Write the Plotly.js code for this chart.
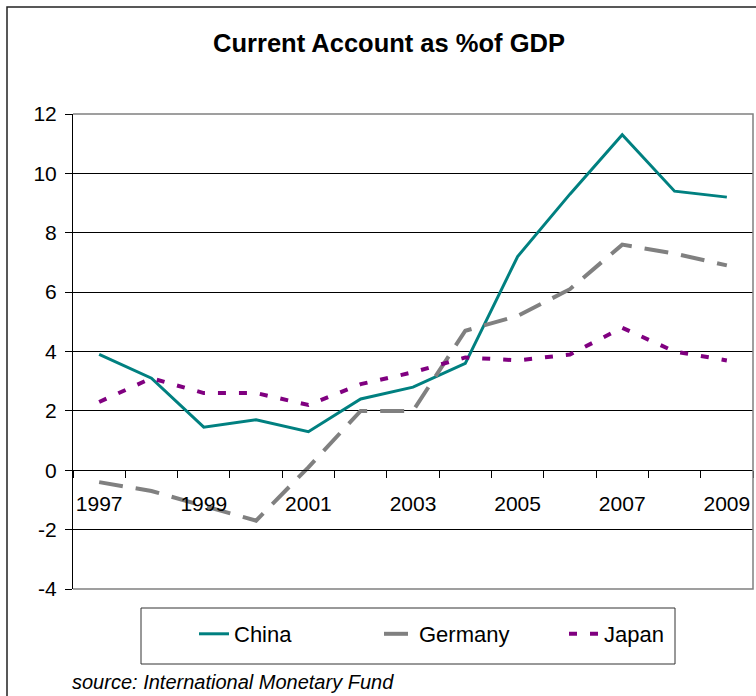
<!DOCTYPE html>
<html><head><meta charset="utf-8">
<script src="https://cdn.plot.ly/plotly-3.0.1.min.js"></script>
<style>html,body{margin:0;padding:0;background:#fff}</style>
</head><body><div id="chart" style="width:756px;height:696px"></div>
<script>
const years = [1997,1998,1999,2000,2001,2002,2003,2004,2005,2006,2007,2008,2009];
const china = [3.9,3.1,1.45,1.7,1.3,2.4,2.8,3.6,7.2,9.3,11.3,9.4,9.2];
const germany = [-0.4,-0.7,-1.2,-1.7,0.1,2.0,2.0,4.7,5.2,6.1,7.6,7.3,6.9];
const japan = [2.3,3.1,2.6,2.6,2.2,2.9,3.3,3.8,3.7,3.9,4.8,4.0,3.7];
const seriesNames = ["China","Germany","Japan"];
const xLabelYears = [1997,1999,2001,2003,2005,2007,2009];
const yTickVals = [-4,-2,0,2,4,6,8,10,12];
const yTickText = ["-4","-2","0","2","4","6","8","10","12"];

const FONT = "Liberation Sans, Arial, sans-serif";

const traces = [
  {x: years, y: china, name: seriesNames[0], mode: "lines", line: {color: "#008080", width: 3}},
  {x: years, y: germany, name: seriesNames[1], mode: "lines", line: {color: "#808080", width: 4, dash: "24px,13px"}},
  {x: years, y: japan, name: seriesNames[2], mode: "lines", line: {color: "#800080", width: 4, dash: "8px,13px"}}
];

const layout = {
  width: 756, height: 696,
  margin: {l: 73, r: 3, t: 114, b: 107, autoexpand: false},
  paper_bgcolor: "#fff", plot_bgcolor: "#fff",
  font: {family: FONT, size: 21, color: "#000"},
  title: {text: "Current Account as %of GDP", font: {family: FONT, size: 25.5, color: "#000", weight: "bold"},
          x: 389/756, xanchor: "center", y: 1 - 43/696, yanchor: "middle", xref: "container", yref: "container"},
  xaxis: {
    range: [1996.5, 2009.5], anchor: "free", position: 0.25,
    tickmode: "array", tickvals: xLabelYears, ticktext: xLabelYears.map(String),
    ticks: "", showgrid: false, zeroline: false,
    showline: true, linecolor: "#000", linewidth: 1,
    ticklabelstandoff: 15,
    tickfont: {family: FONT, size: 21, color: "#000"},
    minor: {tickmode: "linear", tick0: 1996.5, dtick: 1, ticks: "outside", ticklen: 7, tickcolor: "#000", tickwidth: 1, showgrid: false}
  },
  yaxis: {
    range: [-4, 12], tickmode: "array", tickvals: yTickVals, ticktext: yTickText,
    ticks: "outside", ticklen: 7, tickcolor: "#000", tickwidth: 1,
    showline: true, linecolor: "#000", linewidth: 1,
    showgrid: true, gridcolor: "#000", gridwidth: 1, zeroline: false,
    ticklabelstandoff: 4,
    tickfont: {family: FONT, size: 21, color: "#000"}
  },
  showlegend: true,
  legend: {orientation: "h", x: (194-73)/680, xanchor: "left", y: (589-634)/475, yanchor: "middle",
           bgcolor: "rgba(0,0,0,0)", borderwidth: 0, entrywidth: 140, entrywidthmode: "pixels",
           font: {family: FONT, size: 22, color: "#000"}},
  shapes: [
    {type: "path", xref: "paper", yref: "paper", path: "M 0 1 L 1 1 L 1 0 L 0 0", line: {color: "#808080", width: 1.5}, layer: "above"},
    {type: "rect", xref: "paper", yref: "paper", x0: (141-73)/680, x1: (675-73)/680, y0: (589-664)/475, y1: (589-608)/475, line: {color: "#333", width: 1}, fillcolor: "rgba(0,0,0,0)"},
    {type: "rect", xref: "paper", yref: "paper", x0: (7-73)/680, x1: (775-73)/680, y0: (589-705)/475, y1: (589-7)/475, line: {color: "#222", width: 1.5}, fillcolor: "rgba(0,0,0,0)"}
  ],
  annotations: [
    {text: "source: International Monetary Fund", xref: "paper", yref: "paper", x: (70-73)/680, xanchor: "left",
     y: (589-682)/475, yanchor: "middle", showarrow: false, font: {family: FONT, size: 20, color: "#000", style: "italic"}}
  ]
};

Plotly.newPlot("chart", traces, layout, {displayModeBar: false, staticPlot: true});
</script>
</body></html>
